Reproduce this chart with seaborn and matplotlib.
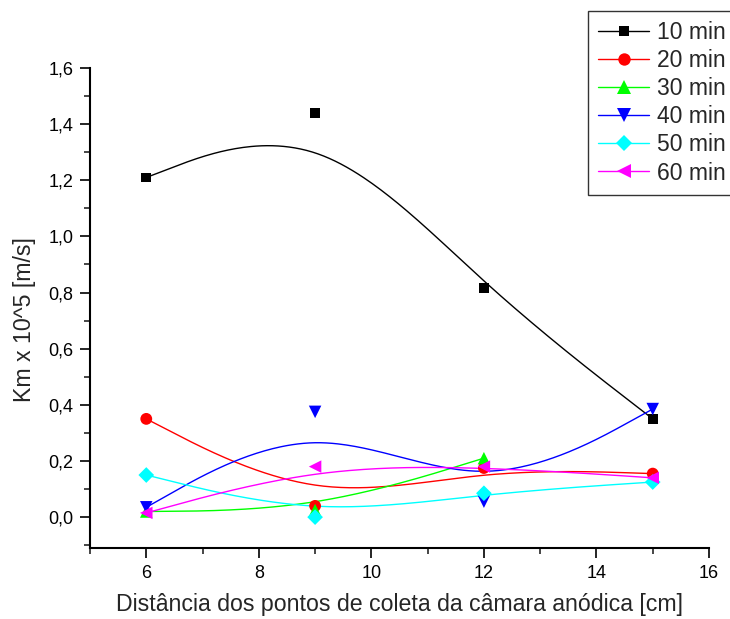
import numpy as np
import pandas as pd
import seaborn as sns
import matplotlib
matplotlib.use("Agg")
import matplotlib.pyplot as plt
from matplotlib.lines import Line2D
from matplotlib.ticker import MultipleLocator, FuncFormatter

# -------------------------------------------------
# Data
# -------------------------------------------------
dist = [6, 9, 12, 15]

km_10 = [1.21, 1.44, 0.815, 0.35]
km_20 = [0.35, 0.04, 0.175, 0.155]
km_30 = [0.02, 0.025, 0.21]          # no point at 15 cm
km_40 = [0.035, 0.375, 0.055, 0.385]
km_50 = [0.15, 0.0, 0.085, 0.125]
km_60 = [0.015, 0.18, 0.18, 0.14]

labels = ["10 min", "20 min", "30 min", "40 min", "50 min", "60 min"]
series = [km_10, km_20, km_30, km_40, km_50, km_60]
colors = ["#000000", "#FF0000", "#00FF00", "#0000FF", "#00FFFF", "#FF00FF"]
markers = ["s", "o", "^", "v", "D", "<"]
msizes = [7, 8.5, 9, 9, 8, 9]


def bspline(xs, ys, n=60):
    # uniform cubic B-spline, end points tripled (Origin "B-Spline" style)
    px = np.r_[[xs[0]] * 2, xs, [xs[-1]] * 2].astype(float)
    py = np.r_[[ys[0]] * 2, ys, [ys[-1]] * 2].astype(float)
    t = np.linspace(0, 1, n)
    b0 = (1 - t) ** 3 / 6
    b1 = (3 * t**3 - 6 * t**2 + 4) / 6
    b2 = (-3 * t**3 + 3 * t**2 + 3 * t + 1) / 6
    b3 = t**3 / 6
    cx, cy = [], []
    for i in range(len(px) - 3):
        cx.append(b0 * px[i] + b1 * px[i + 1] + b2 * px[i + 2] + b3 * px[i + 3])
        cy.append(b0 * py[i] + b1 * py[i + 1] + b2 * py[i + 2] + b3 * py[i + 3])
    return np.concatenate(cx), np.concatenate(cy)


sns.set_style("ticks")
plt.rcParams["font.family"] = ["Liberation Sans", "DejaVu Sans"]

fig = plt.figure(figsize=(7.3, 6.19), dpi=100)
ax = fig.add_axes([90 / 730, 1 - 548 / 619, 619 / 730, 480 / 619])

handles = []
for lab, vals, c, m, ms in zip(labels, series, colors, markers, msizes):
    xs = dist[:len(vals)]
    cx, cy = bspline(xs, vals)
    curve = pd.DataFrame({"x": cx, "y": cy})
    sns.lineplot(data=curve, x="x", y="y", sort=False, color=c, lw=1.0,
                 ax=ax, estimator=None)
    pts = pd.DataFrame({"x": xs, "y": vals})
    sns.scatterplot(data=pts, x="x", y="y", color=c, marker=m,
                    s=ms**2, edgecolor="none", linewidth=0, ax=ax, zorder=3)
    handles.append(Line2D([], [], color=c, lw=1.0, marker=m, markersize=ms * 1.05,
                          markeredgewidth=0, label=lab))

ax.set_xlim(5, 16)
ax.set_ylim(-0.11, 1.6)
ax.xaxis.set_major_locator(MultipleLocator(2))
ax.xaxis.set_minor_locator(MultipleLocator(1))
ax.yaxis.set_major_locator(MultipleLocator(0.2))
ax.yaxis.set_minor_locator(MultipleLocator(0.1))
ax.yaxis.set_major_formatter(FuncFormatter(lambda v, p: f"{v:.1f}".replace(".", ",")))

sns.despine(ax=ax)
for s in ["left", "bottom"]:
    ax.spines[s].set_linewidth(1.5)
    ax.spines[s].set_color("black")
ax.tick_params(which="major", direction="out", length=7, width=1.2,
               labelsize=13, colors="black", pad=5)
ax.tick_params(which="minor", direction="out", length=4, width=1.2)

ax.set_xlabel("Distância dos pontos de coleta da câmara anódica [cm]", fontsize=16.7)
ax.set_ylabel("Km x 10^5 [m/s]", fontsize=16.7)
ax.xaxis.set_label_coords(0.50, -0.094)
ax.yaxis.set_label_coords(-0.088, 0.475)

leg = fig.legend(handles=handles, loc="upper left",
                 bbox_to_anchor=(588 / 730, 1 - 11 / 619), borderaxespad=0,
                 fontsize=16.5, frameon=True, fancybox=False, handlelength=2.2,
                 handletextpad=0.35, labelspacing=0.22, borderpad=0.45)
leg.get_frame().set_edgecolor("black")
leg.get_frame().set_linewidth(1.0)

fig.savefig("out.png", dpi=100)
